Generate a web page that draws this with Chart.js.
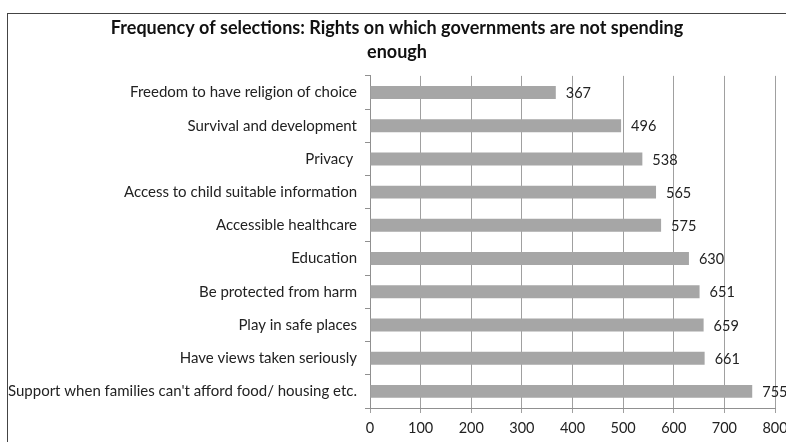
<!DOCTYPE html>
<html>
<head>
<meta charset="utf-8">
<script src="https://cdn.jsdelivr.net/npm/chart.js@4.4.1/dist/chart.umd.min.js"></script>
<style>
  body { margin: 0; background: #fff; }
  #wrap { position: relative; width: 786px; height: 442px; overflow: hidden; }
  #frame {
    position: absolute; left: 7px; top: 13px; width: 900px; height: 500px;
    border-left: 1px solid #444; border-top: 1px solid #444;
  }
  #myChart { position: absolute; left: 0; top: 0; }
</style>
</head>
<body>
<div id="wrap">
  <div id="frame"></div>
  <canvas id="myChart" width="786" height="442"></canvas>
</div>
<script>
// --- Données ---
const titleLines = ['Frequency of selections: Rights on which governments are not spending', 'enough'];
const categories = [
    'Freedom to have religion of choice',
    'Survival and development',
    'Privacy ',
    'Access to child suitable information',
    'Accessible healthcare',
    'Education',
    'Be protected from harm',
    'Play in safe places',
    'Have views taken seriously',
    "Support when families can't afford food/ housing etc."
];
const selections = [367, 496, 538, 565, 575, 630, 651, 659, 661, 755];
const xTicks = [0, 100, 200, 300, 400, 500, 600, 700, 800];

const fontFamily = 'Lato, "Open Sans", sans-serif';

// --- Étiquettes de valeurs à droite des barres ---
const valueLabels = {
    id: 'valueLabels',
    afterDatasetsDraw(chart) {
        const ctx = chart.ctx;
        const meta = chart.getDatasetMeta(0);
        ctx.save();
        ctx.font = '14.5px ' + fontFamily;
        ctx.fillStyle = '#222';
        ctx.textAlign = 'left';
        ctx.textBaseline = 'middle';
        meta.data.forEach((bar, i) => {
            ctx.fillText(String(selections[i]), bar.x + 10, bar.y + 1);
        });
        ctx.restore();
    }
};

const ctx = document.getElementById('myChart').getContext('2d');
new Chart(ctx, {
    type: 'bar',
    data: {
        labels: categories,
        datasets: [{
            data: selections,
            backgroundColor: '#a6a6a6',
            borderWidth: 0,
            barPercentage: 0.39,
            categoryPercentage: 1
        }]
    },
    options: {
        indexAxis: 'y',
        responsive: false,
        animation: false,
        devicePixelRatio: 1,
        layout: { padding: { left: 8, right: 0, top: 16, bottom: 2 } },
        plugins: {
            legend: { display: false },
            tooltip: { enabled: false },
            title: {
                display: true,
                text: titleLines,
                color: '#111',
                font: { family: fontFamily, size: 18, weight: 'bold', lineHeight: 1.33 },
                padding: { top: 0, bottom: 12 }
            }
        },
        scales: {
            x: {
                min: 0,
                max: 800,
                afterBuildTicks(scale) {
                    scale.ticks = xTicks.map(v => ({ value: v }));
                },
                // le "800" déborde à droite comme sur l'original
                afterFit(scale) {
                    scale.paddingRight = 11;
                    scale.height = 32;
                },
                grid: { color: '#a0a0a0', tickLength: 5, lineWidth: 1 },
                border: { color: '#909090' },
                ticks: {
                    color: '#222',
                    padding: 7,
                    maxRotation: 0,
                    font: { family: fontFamily, size: 14.5 }
                }
            },
            y: {
                afterFit(scale) { scale.width = 362; },
                grid: { drawOnChartArea: false, tickLength: 5, color: '#909090', offset: true },
                border: { color: '#909090' },
                ticks: {
                    color: '#222',
                    padding: 8,
                    font: { family: fontFamily, size: 15 }
                }
            }
        }
    },
    plugins: [valueLabels]
});
</script>
</body>
</html>
